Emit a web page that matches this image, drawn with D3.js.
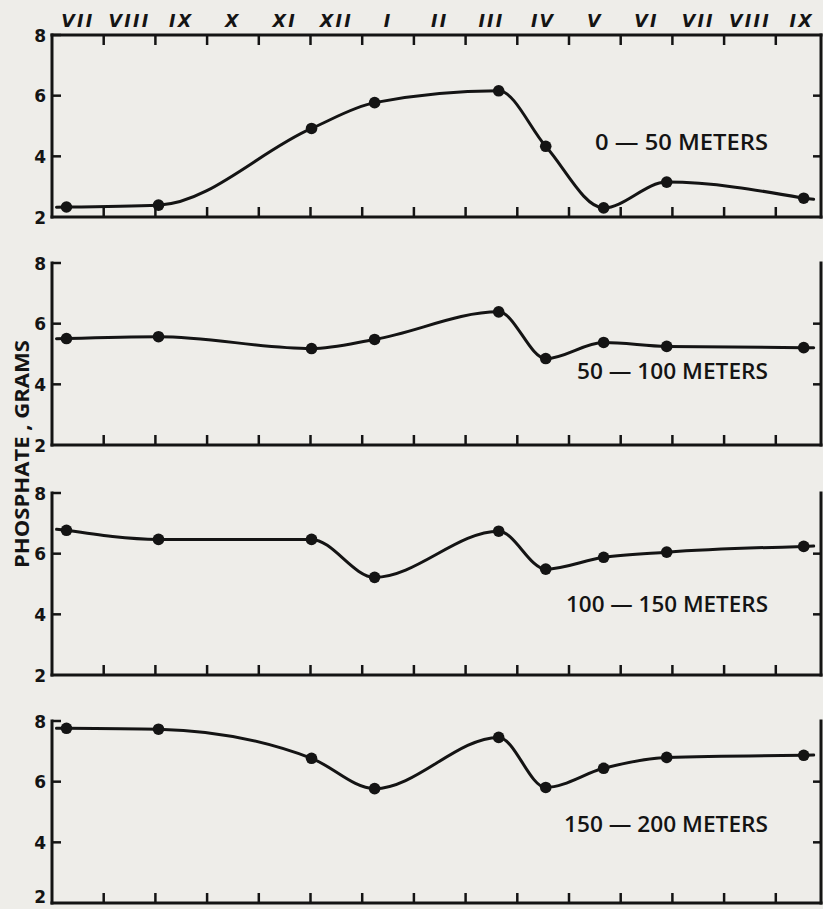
<!DOCTYPE html>
<html>
<head>
<meta charset="utf-8">
<script src="https://cdn.jsdelivr.net/npm/d3@7"></script>
<style>
  html, body { margin: 0; padding: 0; background: #eeede9; }
  svg { display: block; }
</style>
</head>
<body>
<svg id="chart" width="823" height="909"></svg>
<script>
// ---- data ----
const monthLabels = ["VII","VIII","IX","X","XI","XII","I","II","III","IV","V","VI","VII","VIII","IX"];
// sampling times, in months counted from the start of July
const sampleMonths = [0.28, 2.06, 5.02, 6.24, 8.64, 9.55, 10.67, 11.89, 14.54];
const depthLabels = ["0 — 50 METERS", "50 — 100 METERS", "100 — 150 METERS", "150 — 200 METERS"];
const phosphate0_50    = [2.33, 2.39, 4.92, 5.77, 6.16, 4.33, 2.30, 3.15, 2.62];
const phosphate50_100  = [5.51, 5.57, 5.18, 5.48, 6.39, 4.85, 5.38, 5.25, 5.21];
const phosphate100_150 = [6.77, 6.47, 6.47, 5.22, 6.74, 5.49, 5.88, 6.05, 6.24];
const phosphate150_200 = [7.76, 7.73, 6.77, 5.77, 7.46, 5.81, 6.44, 6.80, 6.87];
const yTicks = [2, 4, 6, 8];
const yLabel = "PHOSPHATE , GRAMS";

const series = [phosphate0_50, phosphate50_100, phosphate100_150, phosphate150_200];

// ---- layout ----
const W = 823, H = 909;
const svg = d3.select("#chart");
const left = 52, monthW = 51.7, rightEdge = 821;
const panelTops = [35, 263, 493, 721];
const panelH = 182;
const labelOffsets = [67, 66, 63, 71];   // baseline distance above panel bottom
const labelWidths = [173, 191, 202, 204];
const labelRight = 768;
const ink = "#141414";

const x = d3.scaleLinear().domain([0, monthLabels.length]).range([left, left + monthLabels.length * monthW]);
const boundaries = d3.range(1, monthLabels.length);

// month labels along top
svg.append("g").selectAll("text").data(monthLabels).join("text")
  .attr("x", (d, i) => x(i + 0.5))
  .attr("y", 27)
  .attr("text-anchor", "middle")
  .attr("font-family", "DejaVu Sans, sans-serif")
  .attr("font-style", "italic")
  .attr("font-weight", "bold")
  .attr("font-size", 17.5)
  .attr("letter-spacing", 2.2)
  .attr("fill", ink)
  .text(d => d);

series.forEach((vals, p) => {
  const top = panelTops[p], bottom = top + panelH;
  const y = d3.scaleLinear().domain([2, 8]).range([bottom, top]);
  const g = svg.append("g");

  // frame
  const frame = g.append("g").attr("stroke", ink).attr("stroke-width", 3).attr("fill", "none").attr("stroke-linecap", "square");
  frame.append("line").attr("x1", left).attr("x2", left).attr("y1", y(8)).attr("y2", y(2));
  frame.append("line").attr("x1", left).attr("x2", rightEdge).attr("y1", y(2)).attr("y2", y(2));
  frame.append("line").attr("x1", rightEdge).attr("x2", rightEdge).attr("y1", y(8)).attr("y2", y(2));
  if (p === 0) {
    frame.append("line").attr("x1", left).attr("x2", rightEdge).attr("y1", y(8)).attr("y2", y(8));
    frame.selectAll(".tt").data(boundaries).join("line")
      .attr("x1", d => x(d)).attr("x2", d => x(d))
      .attr("y1", y(8)).attr("y2", y(8) + 10).attr("stroke-width", 2.5).attr("stroke-linecap", "butt");
  }
  // bottom ticks (inward)
  frame.selectAll(".bt").data(boundaries).join("line")
    .attr("x1", d => x(d)).attr("x2", d => x(d))
    .attr("y1", y(2)).attr("y2", y(2) - 10).attr("stroke-width", 2.5).attr("stroke-linecap", "butt");
  // left ticks (inward)
  frame.selectAll(".lt").data(yTicks.filter(t => t > 2)).join("line")
    .attr("x1", left).attr("x2", left + 9)
    .attr("y1", d => y(d)).attr("y2", d => y(d)).attr("stroke-width", 2.5).attr("stroke-linecap", "butt");
  // right ticks (inward)
  frame.selectAll(".rt").data(yTicks.filter(t => t > 2 && t < 8)).join("line")
    .attr("x1", rightEdge).attr("x2", rightEdge - 8)
    .attr("y1", d => y(d)).attr("y2", d => y(d)).attr("stroke-width", 2.5).attr("stroke-linecap", "butt");

  // y tick labels (baseline kept inside the page)
  g.selectAll(".yl").data(yTicks).join("text")
    .attr("x", 46).attr("y", d => Math.min(y(d) + 6.5, H - 6))
    .attr("text-anchor", "end")
    .attr("font-family", "DejaVu Sans, sans-serif")
    .attr("font-weight", "bold").attr("font-size", 17)
    .attr("fill", ink)
    .text(d => d);

  // data line
  const pts = vals.map((v, i) => [x(sampleMonths[i]), y(v)]);
  const line = d3.line().curve(d3.curveMonotoneX);
  g.append("path").attr("d", line(pts))
    .attr("fill", "none").attr("stroke", ink).attr("stroke-width", 3).attr("stroke-linejoin", "round");

  // short lead-in / lead-out stubs continuing the curve past the end points
  const stub = (a, b, len) => {
    const dx = a[0] - b[0], dy = a[1] - b[1], n = Math.hypot(dx, dy);
    return [a, [a[0] + dx / n * len, a[1] + dy / n * len]];
  };
  [stub(pts[0], pts[1], 10), stub(pts[pts.length - 1], pts[pts.length - 2], 10)].forEach(s => {
    g.append("path").attr("d", d3.line()(s))
      .attr("fill", "none").attr("stroke", ink).attr("stroke-width", 3).attr("stroke-linecap", "round");
  });

  // points
  g.selectAll("circle").data(pts).join("circle")
    .attr("cx", d => d[0]).attr("cy", d => d[1]).attr("r", 5.8).attr("fill", ink);

  // depth label
  g.append("text")
    .attr("x", labelRight).attr("y", bottom - labelOffsets[p])
    .attr("text-anchor", "end")
    .attr("font-family", "Open Sans, DejaVu Sans, sans-serif")
    .attr("font-weight", 600).attr("font-size", 21)
    .attr("textLength", labelWidths[p]).attr("lengthAdjust", "spacingAndGlyphs")
    .attr("fill", ink)
    .text(depthLabels[p]);
});

// y axis title
svg.append("text")
  .attr("transform", "translate(29,454) rotate(-90)")
  .attr("text-anchor", "middle")
  .attr("font-family", "Open Sans, DejaVu Sans, sans-serif")
  .attr("font-weight", 700).attr("font-size", 20)
  .attr("textLength", 228).attr("lengthAdjust", "spacingAndGlyphs")
  .attr("fill", ink)
  .text(yLabel);
</script>
</body>
</html>
